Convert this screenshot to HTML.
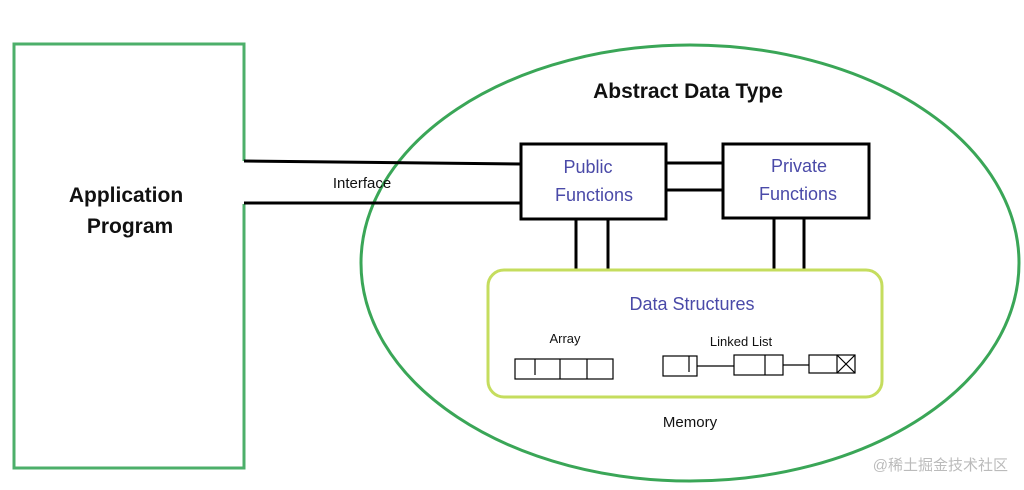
<!DOCTYPE html>
<html><head><meta charset="utf-8"><style>
html,body{margin:0;padding:0;background:#fff;}
svg{display:block;}
text{font-family:"Liberation Sans","Noto Sans CJK SC",sans-serif;}
</style></head><body>
<svg width="1024" height="490" viewBox="0 0 1024 490" xmlns="http://www.w3.org/2000/svg">
<rect width="1024" height="490" fill="#fff"/>
<!-- Application program box with opening -->
<path d="M244,161 L244,44 L14,44 L14,468 L244,468 L244,204" fill="none" stroke="#4caf6a" stroke-width="3"/>
<!-- ellipse -->
<ellipse cx="690" cy="263" rx="329" ry="218" fill="none" stroke="#3aa657" stroke-width="3"/>
<!-- interface lines -->
<line x1="244" y1="161" x2="521" y2="164" stroke="#000" stroke-width="3"/>
<line x1="244" y1="203" x2="521" y2="203" stroke="#000" stroke-width="3"/>
<!-- boxes -->
<rect x="521" y="144" width="145" height="75" fill="#fff" stroke="#000" stroke-width="3"/>
<rect x="723" y="144" width="146" height="74" fill="#fff" stroke="#000" stroke-width="3"/>
<line x1="666" y1="163" x2="723" y2="163" stroke="#000" stroke-width="3"/>
<line x1="666" y1="190" x2="723" y2="190" stroke="#000" stroke-width="3"/>
<g stroke="#000" stroke-width="3">
<line x1="576" y1="219" x2="576" y2="271"/>
<line x1="608" y1="219" x2="608" y2="271"/>
<line x1="774" y1="218" x2="774" y2="271"/>
<line x1="804" y1="218" x2="804" y2="271"/>
</g>
<!-- data structures -->
<rect x="488" y="270" width="394" height="127" rx="16" fill="#fff" stroke="#c5dd5e" stroke-width="3"/>
<!-- array -->
<g stroke="#000" stroke-width="1.2" fill="none">
<rect x="515" y="359" width="98" height="20"/>
<line x1="535" y1="359" x2="535" y2="375"/>
<line x1="560" y1="359" x2="560" y2="379"/>
<line x1="587" y1="359" x2="587" y2="379"/>
<!-- linked list -->
<rect x="663" y="356" width="34" height="20"/>
<line x1="689" y1="356" x2="689" y2="372"/>
<line x1="697" y1="366" x2="734" y2="366"/>
<rect x="734" y="355" width="49" height="20"/>
<line x1="765" y1="355" x2="765" y2="375"/>
<line x1="783" y1="365" x2="809" y2="365"/>
<rect x="809" y="355" width="46" height="18"/>
<line x1="837" y1="355" x2="837" y2="373"/>
<line x1="837" y1="355" x2="855" y2="373"/>
<line x1="855" y1="355" x2="837" y2="373"/>
</g>
<!-- text -->
<text x="126" y="202" font-size="21" font-weight="bold" text-anchor="middle" fill="#111">Application</text>
<text x="130" y="233" font-size="21" font-weight="bold" text-anchor="middle" fill="#111">Program</text>
<text x="362" y="188" font-size="15" text-anchor="middle" fill="#111">Interface</text>
<text x="688" y="98" font-size="21" font-weight="bold" text-anchor="middle" fill="#111">Abstract Data Type</text>
<text x="588" y="173" font-size="18" text-anchor="middle" fill="#4a4aa8">Public</text>
<text x="594" y="201" font-size="18" text-anchor="middle" fill="#4a4aa8">Functions</text>
<text x="799" y="172" font-size="18" text-anchor="middle" fill="#4a4aa8">Private</text>
<text x="798" y="200" font-size="18" text-anchor="middle" fill="#4a4aa8">Functions</text>
<text x="692" y="310" font-size="18" text-anchor="middle" fill="#4a4aa8">Data Structures</text>
<text x="565" y="343" font-size="13" text-anchor="middle" fill="#111">Array</text>
<text x="741" y="346" font-size="13" text-anchor="middle" fill="#111">Linked List</text>
<text x="690" y="427" font-size="15" text-anchor="middle" fill="#111">Memory</text>
<text x="1008" y="470" font-size="15" text-anchor="end" fill="#bbb" style="font-family:'Liberation Sans','Noto Sans CJK SC',sans-serif">@稀土掘金技术社区</text>
</svg>
</body></html>
